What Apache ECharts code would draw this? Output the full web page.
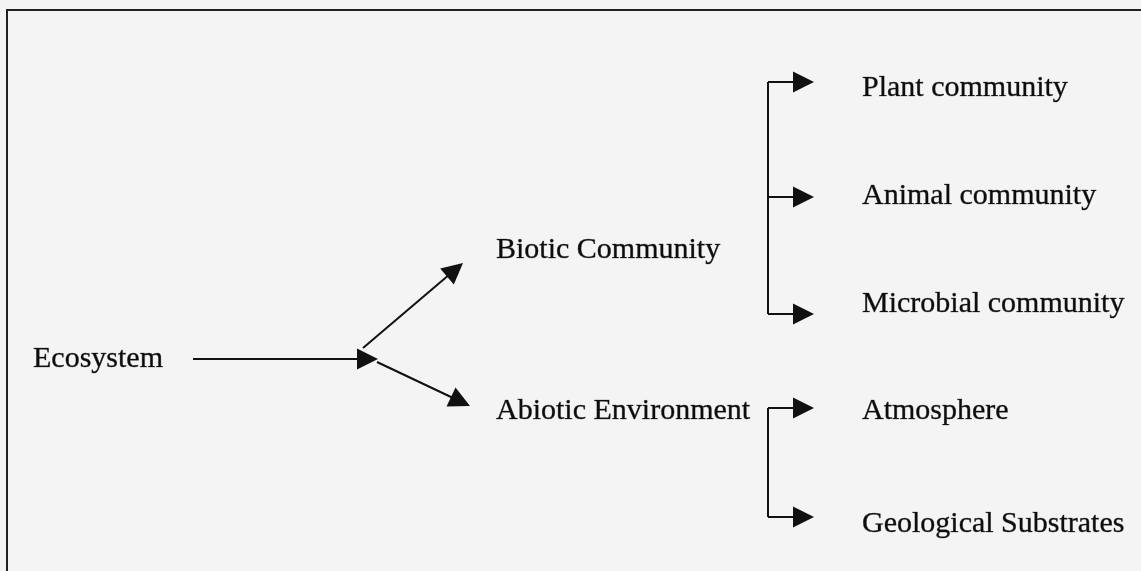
<!DOCTYPE html>
<html>
<head>
<meta charset="utf-8">
<style>
  html, body { margin: 0; padding: 0; background: #f4f4f4; }
  #chart { width: 1141px; height: 571px; }
</style>
<script src="https://cdn.jsdelivr.net/npm/echarts@6/dist/echarts.min.js"></script>
</head>
<body>
<div id="chart"></div>
<script>
// ---- diagram content ----
const labels = ['Ecosystem', 'Biotic Community', 'Abiotic Environment',
  'Plant community', 'Animal community', 'Microbial community',
  'Atmosphere', 'Geological Substrates'];
// layout (in axis units = page pixels)
const labelX = [33, 496, 496, 862, 862, 862, 862, 862];
const labelY = [359, 250, 411, 88, 196, 304, 411, 524];
// arrows: [start, tip]
const arrowStart = [[193, 359], [363, 348], [377, 362], [768, 82], [768, 197], [768, 314], [768, 408], [768, 517]];
const arrowTip   = [[378, 359], [463, 263], [470, 406], [814, 82], [814, 197], [814, 314], [814, 408], [814, 517]];
// bracket spines
const spineStart = [[768, 82], [768, 408]];
const spineEnd   = [[768, 314], [768, 517]];

const HEAD_LEN = 21, HEAD_W = 20;
const ink = '#111111';

function arrowData() {
  return arrowStart.map((s, i) => {
    const t = arrowTip[i];
    const dx = t[0] - s[0], dy = t[1] - s[1];
    const len = Math.hypot(dx, dy);
    const e = [t[0] - dx / len * HEAD_LEN / 2, t[1] - dy / len * HEAD_LEN / 2];
    return { coords: [s, e] };
  });
}

const chart = echarts.init(document.getElementById('chart'), null, { renderer: 'canvas' });
chart.setOption({
  backgroundColor: '#f4f4f4',
  animation: false,
  grid: { left: 0, right: 0, top: 0, bottom: 0 },
  xAxis: { type: 'value', min: 0, max: 1141, show: false },
  yAxis: { type: 'value', min: 0, max: 571, inverse: true, show: false },
  graphic: [{
    type: 'polyline',
    shape: { points: [[7, 600], [7, 10], [1160, 10]] },
    style: { stroke: '#222', lineWidth: 2, fill: null },
    silent: true
  }],
  series: [
    {
      type: 'lines',
      coordinateSystem: 'cartesian2d',
      symbol: ['none', 'triangle'],
      symbolSize: [HEAD_W, HEAD_LEN],
      lineStyle: { color: ink, width: 2, opacity: 1, curveness: 0 },
      itemStyle: { color: ink },
      data: arrowData(),
      silent: true
    },
    {
      type: 'lines',
      coordinateSystem: 'cartesian2d',
      symbol: ['none', 'none'],
      lineStyle: { color: ink, width: 2, opacity: 1 },
      data: spineStart.map((s, i) => ({ coords: [s, spineEnd[i]] })),
      silent: true
    },
    {
      type: 'scatter',
      symbolSize: 0,
      silent: true,
      data: labels.map((n, i) => ({ name: n, value: [labelX[i], labelY[i]] })),
      label: {
        show: true,
        position: 'right',
        distance: 0,
        formatter: p => p.name,
        fontFamily: 'Liberation Serif, Times New Roman, serif',
        fontSize: 30,
        color: '#0d0d0d',
        opacity: 1,
        textBorderColor: 'rgba(20,20,20,0.55)',
        textBorderWidth: 0.6
      }
    }
  ]
});
</script>
</body>
</html>
